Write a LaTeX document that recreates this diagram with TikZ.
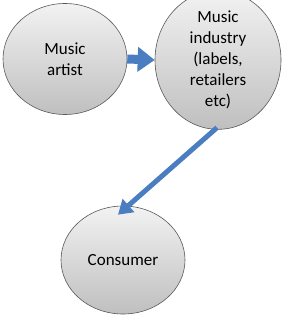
\documentclass[tikz,border=0pt]{standalone}
\usepackage{fontspec}
\setmainfont{Carlito}
\usetikzlibrary{shapes.geometric,arrows.meta}
\definecolor{arrowblue}{RGB}{74,126,193}
\tikzset{
  bubble/.style={ellipse, draw=black!65, line width=0.6pt, top color=black!5, bottom color=black!25,
    inner sep=0pt, align=center, font=\fontsize{17}{21}\selectfont},
  flow/.style={draw=arrowblue, line width=#1}
}
\begin{document}
\begin{tikzpicture}[x=1pt,y=1pt]
\useasboundingbox (0,0) rectangle (284,-320);
\node[bubble, minimum width=124pt, minimum height=111pt] (a) at (65,-59) {Music\\artist};
\node[bubble, minimum width=126pt, minimum height=112pt] (b) at (218,-60) {Music\\industry\\(labels,\\retailers\\etc)};
\node[bubble, minimum width=124pt, minimum height=108pt] (c) at (123,-260) {Consumer};
\draw[flow=9pt, -{Triangle[length=17pt,width=24pt]}] (a.east) -- (b.west);
\coordinate (ctip) at ([shift={(-5pt,-9pt)}]c.north);
\draw[flow=5pt, -{Triangle[length=14pt,width=17pt]}] ([xshift=-1pt,yshift=2pt]b.south) -- (ctip);
\end{tikzpicture}
\end{document}
